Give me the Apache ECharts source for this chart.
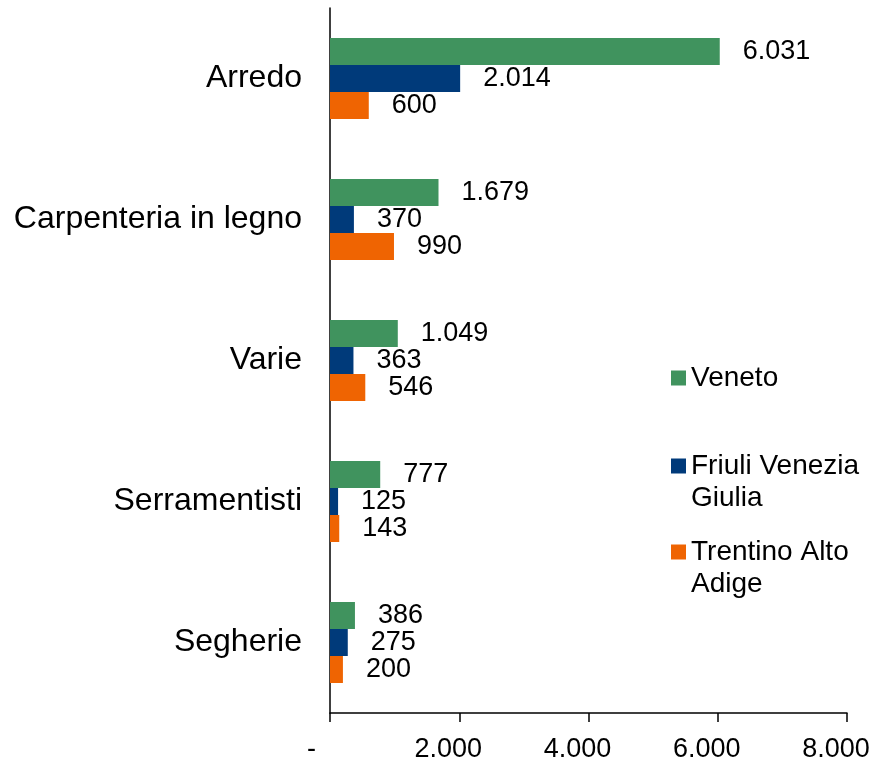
<!DOCTYPE html>
<html lang="it">
  <head>
    <meta charset="UTF-8" />
    <title>Imprese del legno per regione</title>
    <script src="https://cdn.jsdelivr.net/npm/echarts@6/dist/echarts.min.js"></script>
    <style>
      html, body { margin: 0; padding: 0; background: #fff; }
      #chart { width: 882px; height: 759px; }
    </style>
  </head>
  <body>
    <div id="chart"></div>
    <script>
      // dati
      var categories = ['Arredo', 'Carpenteria in legno', 'Varie', 'Serramentisti', 'Segherie'];
      var seriesNames = ['Veneto', 'Friuli Venezia Giulia', 'Trentino Alto Adige'];
      var legendLabels = ['Veneto', 'Friuli Venezia\nGiulia', 'Trentino Alto\nAdige'];
      var veneto = [6031, 1679, 1049, 777, 386];
      var friuli = [2014, 370, 363, 125, 275];
      var trentino = [600, 990, 546, 143, 200];
      var xTicks = [0, 2000, 4000, 6000, 8000];

      var colors = ['#40935E', '#003A7A', '#EF6402'];
      var font = '"Liberation Sans", Arial, sans-serif';

      // separatore migliaia all'italiana
      function fmt(v) {
        if (v === 0) return '-  ';
        return String(v).replace(/\B(?=(\d{3})+(?!\d))/g, '.');
      }

      var chart = echarts.init(document.getElementById('chart'));

      function makeSeries(name, data, color) {
        return {
          name: name,
          type: 'bar',
          data: data,
          barWidth: 27,
          barGap: '0%',
          itemStyle: { color: color },
          label: {
            show: true,
            position: 'right',
            distance: 23,
            color: '#000',
            fontSize: 27,
            fontFamily: font,
            formatter: function (p) { return fmt(p.value); }
          }
        };
      }

      // una legenda per voce; la riga vuota iniziale allinea la prima riga al quadratino
      var legendTops = [362, 418, 504];
      var legends = seriesNames.map(function (name, i) {
        var multi = legendLabels[i].indexOf('\n') >= 0;
        return {
          data: [name],
          left: 671,
          top: legendTops[i],
          orient: 'vertical',
          padding: 0,
          itemWidth: 15,
          itemHeight: 15,
          icon: 'rect',
          selectedMode: false,
          formatter: function () { return multi ? '\n' + legendLabels[i] : legendLabels[i]; },
          textStyle: {
            fontSize: 28,
            fontFamily: font,
            color: '#000',
            lineHeight: 32
          }
        };
      });

      var option = {
        animation: false,
        backgroundColor: '#fff',
        legend: legends,
        grid: { left: 330, right: 35, top: 8, bottom: 46, outerBoundsMode: 'none', containLabel: false },
        xAxis: {
          type: 'value',
          min: xTicks[0],
          max: xTicks[xTicks.length - 1],
          interval: 2000,
          splitLine: { show: false },
          axisLine: { show: true, lineStyle: { color: '#000', width: 1.5 } },
          axisTick: { show: true, length: 9, lineStyle: { color: '#000', width: 1.5 } },
          axisLabel: {
            color: '#000',
            fontSize: 27,
            fontFamily: font,
            margin: 23,
            padding: [0, 22, 0, 0],
            formatter: fmt
          }
        },
        yAxis: {
          type: 'category',
          data: categories,
          inverse: true,
          axisLine: { show: true, lineStyle: { color: '#000', width: 1.5 } },
          axisTick: { show: false },
          axisLabel: {
            color: '#000',
            fontSize: 32,
            fontFamily: font,
            margin: 28
          }
        },
        series: [
          makeSeries(seriesNames[0], veneto, colors[0]),
          makeSeries(seriesNames[1], friuli, colors[1]),
          makeSeries(seriesNames[2], trentino, colors[2])
        ]
      };

      chart.setOption(option);
    </script>
  </body>
</html>
